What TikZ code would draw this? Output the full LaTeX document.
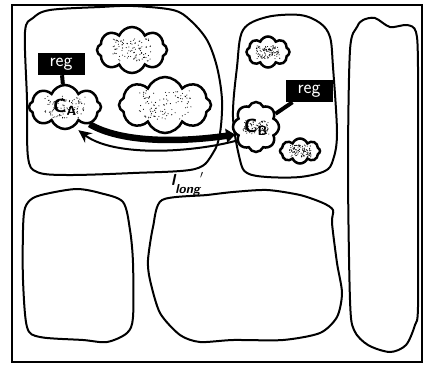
\documentclass[tikz,border=0pt]{standalone}
\usetikzlibrary{shapes.symbols,arrows.meta}
\tikzset{
  zone/.style={line width=2pt},
  blob/.style={cloud, cloud puffs=8, cloud puff arc=135, cloud ignores aspect,
    draw, line width=2.5pt, fill=white, inner sep=0pt,
    font=\sffamily\bfseries\fontsize{19}{19}\selectfont,
    path picture={\foreach \i in {1,...,100}
      \fill[black] ([shift={({rand*#1*1pt},{rand*0.55*#1*1pt})}]path picture bounding box.center) circle (0.55pt);}},
  regbox/.style={fill=black, text=white, inner sep=0pt,
    minimum width=47pt, minimum height=22pt,
    font=\sffamily\fontsize{19}{19}\selectfont},
  regline/.style={line width=4pt}
}
\pgfmathsetseed{7}
\begin{document}
\begin{tikzpicture}[x=1pt, y=-1pt]
  \useasboundingbox (0,0) rectangle (423,365);
  \draw[line width=1.6pt] (12,5) rectangle (422,362);
  \draw[zone] plot[smooth cycle, tension=0.55] coordinates {(25,32) (33,18) (50,10) (100,7) (133,6) (173,10)
    (190,20) (207,40) (217,67) (222,100) (220,133) (213,153) (195,169) (133,173) (67,175) (37,172) (28,157) (27,100)};
  \draw[zone] plot[smooth cycle, tension=0.55] coordinates {(243,30) (267,17) (300,15) (320,23) (330,37) (333,67)
    (337,133) (333,160) (325,171) (300,177) (267,177) (247,173) (240,160) (233,117) (237,67)};
  \draw[zone] plot[smooth cycle, tension=0.5] coordinates {(357,27) (363,20) (375,18) (390,27) (407,25) (416,32)
    (418,67) (418,200) (418,307) (415,325) (406,345) (390,352) (368,345) (354,330) (350,300) (348,167) (350,50)};
  \draw[zone] plot[smooth cycle, tension=0.5] coordinates {(25,208) (33,198) (50,193) (77,189) (100,193) (123,202)
    (130,230) (133,263) (133,317) (127,333) (107,342) (83,340) (40,337) (27,327) (23,280) (23,230)};
  \draw[zone] plot[smooth cycle, tension=0.45] coordinates {(162,200) (207,195) (233,192) (267,190) (300,195) (323,203)
    (333,210) (332,223) (337,263) (342,293) (337,317) (320,333) (283,340) (233,340) (200,342) (180,335)
    (160,313) (150,280) (148,260) (153,227)};
  \node[blob=20, minimum width=70pt, minimum height=46pt] (b1) at (132,50) {};
  \node[blob=26, minimum width=92pt, minimum height=56pt] (b2) at (165,105) {};
  \node[blob=20, minimum width=72pt, minimum height=44pt] (ca) at (65,107) {C\textsubscript{A}};
  \node[blob=13, minimum width=46pt, minimum height=50pt] (cb) at (256,127) {C\textsubscript{B}};
  \node[blob=12, minimum width=43pt, minimum height=31pt] (b3) at (268,52) {};
  \node[blob=11, minimum width=40pt, minimum height=25pt] (b4) at (300,151) {};
  \node[regbox] (rega) at (61,64) {reg};
  \node[regbox] (regb) at (309,91) {reg};
  \draw[regline] (rega) -- (ca);
  \draw[regline] (regb) -- (cb);
  \draw[line width=6.5pt, -{Triangle[length=9pt,width=14pt]}] (ca.-35) .. controls (120,142) and (175,143) .. (cb.200);
  \draw[line width=2pt, shorten >=5pt, -{Stealth[length=13pt,width=12pt]}] (cb.215) .. controls (195,152) and (115,158) .. (ca.-65);
  \node[anchor=base west, inner sep=0pt, font=\sffamily\bfseries\slshape] (llong) at (171,185)
    {\fontsize{16}{16}\selectfont l\raisebox{-8pt}{\fontsize{13}{13}\selectfont long}$'$};
\end{tikzpicture}
\end{document}
